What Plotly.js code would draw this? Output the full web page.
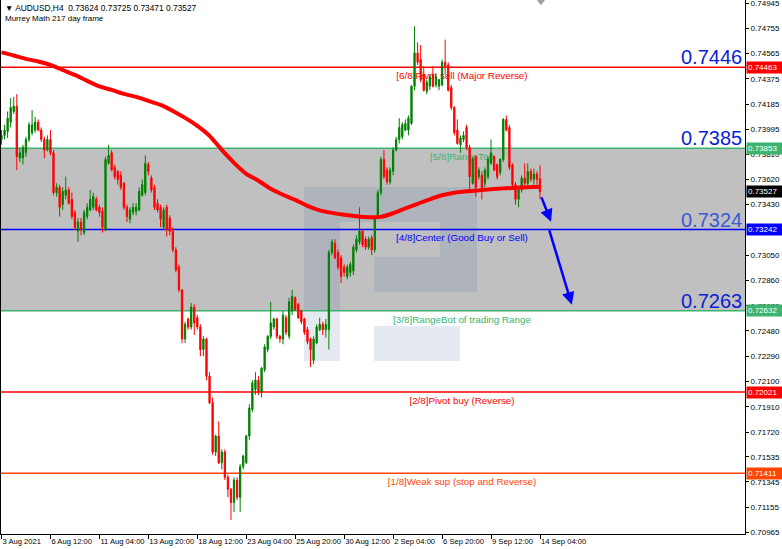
<!DOCTYPE html>
<html><head><meta charset="utf-8">
<script src="https://cdn.plot.ly/plotly-3.0.1.min.js"></script>
<style>html,body{margin:0;padding:0;background:#fff;}#chart{width:782px;height:549px;}</style>
</head><body><div id="chart"></div>
<script>
const symbol = "AUDUSD,H4";
const subtitle = "Murrey Math 217 day frame";

const open = [.7392,.7395,.7398,.7405,.7413,.7417,.7378,.7378,.7382,.7392,
.7397,.7399,.7405,.7399,.7392,.7384,.7392,.7382,.7352,.7356,
.7343,.7350,.7354,.7347,.7337,.7323,.7330,.7322,.7334,.7339,
.7341,.7347,.7341,.7338,.7324,.7374,.7382,.7371,.7368,.7365,
.7359,.7341,.7332,.7337,.7338,.7339,.7350,.7352,.7373,.7363,
.7356,.7344,.7341,.7326,.7341,.7333,.7323,.7309,.7296,.7279,
.7242,.7257,.7251,.7266,.7258,.7251,.7234,.7242,.7214,.7194,
.7157,.7169,.7149,.7157,.7138,.7129,.7119,.7136,.7123,.7146,
.7149,.7169,.7189,.7204,.7211,.7202,.7219,.7234,.7244,.7251,
.7257,.7244,.7242,.7258,.7244,.7263,.7273,.7268,.7263,.7257,
.7249,.7242,.7226,.7239,.7249,.7253,.7249,.7249,.7307,.7314,
.7307,.7303,.7296,.7289,.7292,.7293,.7309,.7315,.7323,.7317,
.7311,.7318,.7309,.7334,.7352,.7377,.7369,.7360,.7368,.7384,
.7392,.7394,.7399,.7399,.7404,.7432,.7457,.7452,.7441,.7428,
.7432,.7441,.7433,.7432,.7433,.7450,.7448,.7431,.7416,.7399,
.7388,.7392,.7401,.7386,.7359,.7379,.7364,.7365,.7359,.7364,
.7374,.7379,.7373,.7367,.7377,.7407,.7401,.7373,.7358,.7347,
.7354,.7363,.7359,.7368,.7362,.7366,.73624];
const high = [.7399,.7403,.7413,.7423,.7424,.7426,.7386,.7388,.7394,.7405,
.7414,.7409,.7407,.7401,.7394,.7395,.7399,.7384,.7359,.7358,
.7356,.7364,.7356,.7352,.7339,.7333,.7333,.7339,.7344,.7354,
.7352,.7349,.7343,.7341,.7379,.7388,.7384,.7373,.7369,.7368,
.7360,.7343,.7341,.7344,.7344,.7356,.7362,.7380,.7375,.7365,
.7358,.7347,.7343,.7341,.7343,.7335,.7326,.7311,.7298,.7279,
.7255,.7258,.7269,.7268,.7260,.7253,.7244,.7243,.7217,.7198,
.7170,.7180,.7159,.7159,.7140,.7130,.7138,.7138,.7148,.7155,
.7170,.7193,.7211,.7217,.7214,.7221,.7238,.7245,.7270,.7258,
.7258,.7245,.7263,.7260,.7273,.7279,.7274,.7269,.7264,.7258,
.7251,.7243,.7244,.7253,.7258,.7255,.7257,.7309,.7317,.7317,
.7309,.7305,.7298,.7298,.7300,.7313,.7320,.7341,.7324,.7319,
.7319,.7320,.7334,.7354,.7379,.7384,.7371,.7371,.7386,.7394,
.7408,.7405,.7407,.7410,.7433,.7477,.7465,.7463,.7447,.7437,
.7441,.7447,.7441,.7437,.7452,.7467,.7450,.7433,.7417,.7407,
.7395,.7398,.7403,.7388,.7379,.7380,.7371,.7368,.7371,.7379,
.7392,.7380,.7374,.7378,.7408,.7410,.7403,.7374,.7360,.7356,
.7365,.7374,.7374,.7370,.7370,.7368,.73725];
const low = [.7388,.7392,.7393,.7401,.7411,.7369,.7375,.7373,.7379,.7390,
.7395,.7397,.7398,.7390,.7378,.7383,.7380,.7350,.7349,.7334,
.7339,.7347,.7343,.7332,.7324,.7315,.7320,.7320,.7332,.7338,
.7339,.7338,.7334,.7322,.7323,.7373,.7368,.7362,.7358,.7354,
.7339,.7330,.7329,.7335,.7335,.7338,.7349,.7350,.7365,.7352,
.7339,.7337,.7326,.7324,.7319,.7320,.7307,.7292,.7277,.7239,
.7239,.7249,.7249,.7245,.7249,.7229,.7229,.7211,.7193,.7155,
.7154,.7148,.7144,.7136,.7123,.7106,.7112,.7121,.7112,.7144,
.7148,.7166,.7187,.7200,.7200,.7198,.7217,.7232,.7242,.7249,
.7242,.7239,.7238,.7245,.7242,.7260,.7263,.7257,.7253,.7245,
.7238,.7221,.7223,.7238,.7248,.7245,.7243,.7234,.7305,.7302,
.7294,.7284,.7289,.7287,.7289,.7290,.7307,.7313,.7311,.7309,
.7309,.7305,.7307,.7332,.7350,.7362,.7358,.7358,.7365,.7383,
.7389,.7392,.7398,.7395,.7403,.7429,.7448,.7435,.7428,.7426,
.7429,.7431,.7431,.7429,.7432,.7441,.7428,.7414,.7395,.7388,
.7382,.7390,.7384,.7354,.7358,.7349,.7362,.7347,.7356,.7362,
.7373,.7368,.7362,.7365,.7375,.7398,.7369,.7356,.7343,.7341,
.7352,.7356,.7357,.7360,.7358,.7358,.73471];
const close = [.7395,.7399,.7408,.7416,.7417,.7379,.7382,.7386,.7392,.7403,
.7403,.7405,.7399,.7392,.7384,.7392,.7382,.7352,.7356,.7341,
.7353,.7354,.7344,.7334,.7326,.7330,.7324,.7337,.7341,.7347,
.7349,.7339,.7337,.7326,.7377,.7380,.7369,.7364,.7362,.7356,
.7341,.7334,.7339,.7341,.7341,.7353,.7358,.7374,.7368,.7354,
.7341,.7339,.7332,.7339,.7324,.7323,.7309,.7294,.7279,.7242,
.7253,.7251,.7266,.7254,.7251,.7234,.7242,.7214,.7194,.7157,
.7169,.7149,.7157,.7138,.7129,.7119,.7136,.7123,.7146,.7154,
.7169,.7190,.7209,.7211,.7202,.7220,.7236,.7244,.7254,.7257,
.7244,.7242,.7260,.7247,.7270,.7274,.7264,.7258,.7255,.7247,
.7240,.7234,.7242,.7251,.7253,.7249,.7253,.7307,.7315,.7303,
.7296,.7289,.7292,.7296,.7298,.7311,.7317,.7323,.7313,.7311,
.7317,.7309,.7332,.7352,.7377,.7364,.7360,.7369,.7384,.7392,
.7401,.7403,.7404,.7408,.7432,.7457,.7450,.7437,.7429,.7435,
.7439,.7432,.7439,.7437,.7450,.7447,.7429,.7416,.7397,.7389,
.7393,.7395,.7386,.7364,.7377,.7356,.7369,.7354,.7369,.7377,
.7382,.7369,.7364,.7377,.7407,.7399,.7371,.7358,.7347,.7354,
.7363,.7359,.7368,.7362,.7366,.7362,.73527];

// moving average read every 4 bars
const maBar = [0,4,8,12,16,20,24,28,32,36,40,44,48,52,56,60,64,68,72,76,80,84,88,92,96,100,104,108,112,116,120,124,128,132,136,140,144,148,152,156,160,164,168,172,176];
const maValue = [.74574,.74551,.74525,.74506,.74480,.74442,.74405,.74360,.74318,.74292,.74262,.74240,.74210,.74179,.74134,.74082,.74022,.73947,.73841,.73744,.73661,.73609,.73549,.73504,.73466,.73421,.73387,.73368,.73353,.73342,.73335,.73338,.73365,.73402,.73436,.73470,.73500,.73519,.73530,.73537,.73545,.73552,.73556,.73560,.73564];

const timeTickBar = [0,16,32,48,64,80,96,112,128,144,160,176];
const timeTickText = ["3 Aug 2021","6 Aug 12:00","11 Aug 04:00","13 Aug 20:00","18 Aug 12:00","23 Aug 04:00","25 Aug 20:00","30 Aug 12:00","2 Sep 04:00","6 Sep 20:00","9 Sep 12:00","14 Sep 04:00"];
const priceTicks = [0.74945,0.74755,0.74565,0.74375,0.74185,0.73995,0.73810,0.73620,0.73430,0.73050,0.72860,0.72670,0.72480,0.72290,0.72100,0.71910,0.71720,0.71535,0.71345,0.71155,0.70965];

const levelValue = [0.74463,0.73853,0.73242,0.72632,0.72021,0.71411];
const levelName = ["[6/8]Pivot sell (Major Reverse)","[5/8]RangeTop","[4/8]Center (Good Buy or Sell)","[3/8]RangeBot of trading Range","[2/8]Pivot buy (Reverse)","[1/8]Weak sup (stop and Reverse)"];
const levelColor = ["#ff0000","#3cb371","#0000ff","#3cb371","#ff0000","#ff4500"];
const bigLabel = ["0.7446","0.7385","0.7324","0.7263"];
const bigLabelColor = ["#0a1fd8","#0a1fd8","#3a5ad8","#0a1fd8"];

const FONT = "Liberation Sans, Arial, sans-serif";
const N = close.length;
const bars = close.map((_, i) => i);

const traces = [
  {type:'candlestick', x:bars, open:open, high:high, low:low, close:close,
   increasing:{line:{color:'#008000', width:1}, fillcolor:'#008000'},
   decreasing:{line:{color:'#ff0000', width:1}, fillcolor:'#ff0000'},
   whiskerwidth:0, hoverinfo:'skip'},
  {type:'scatter', mode:'lines', x:maBar, y:maValue,
   line:{color:'#ff0000', width:4, shape:'spline', smoothing:0.6}, hoverinfo:'skip'}
];

const shapes = [];
shapes.push({type:'rect', xref:'paper', x0:0, x1:1, yref:'y', y0:levelValue[3], y1:levelValue[1],
  fillcolor:'#c0c0c0', line:{width:0}, layer:'below'});
// watermark logo (paper coords)
const wm = 'rgba(80,110,165,0.15)';
[[0.4073,0.4556,0.3240,0.6498],[0.4556,0.6398,0.5843,0.6498],[0.5901,0.6398,0.4532,0.5843],
 [0.5013,0.5901,0.4532,0.5187],[0.5013,0.6169,0.3240,0.3895]].forEach(r => {
  shapes.push({type:'rect', xref:'paper', yref:'paper', x0:r[0], x1:r[1], y0:r[2], y1:r[3],
    fillcolor:wm, line:{width:0}, layer:'below'});
});
levelValue.forEach((v, k) => {
  shapes.push({type:'line', xref:'paper', x0:0, x1:1, yref:'y', y0:v, y1:v,
    line:{color:levelColor[k], width:1.5}, layer:'below'});
  shapes.push({type:'line', xref:'paper', x0:0.2392, x1:1, yref:'y', y0:v, y1:v,
    line:{color:'rgba(0,0,0,0)', width:1}, layer:'below',
    label:{text:levelName[k], textposition:'middle', yanchor:'top', padding:2,
      font:{family:FONT, size:9.8, color:levelColor[k]}}});
});
// chart shift marker
shapes.push({type:'path', xref:'paper', yref:'paper',
  path:'M 0.7204 1 L 0.7312 1 L 0.7258 0.99 Z', fillcolor:'#a0a0a0', line:{width:0}});

const annotations = [];
const last = N - 1;
annotations.push({xref:'paper', yref:'paper', x:0, y:1, xanchor:'left', yanchor:'top', xshift:2, yshift:-1,
  showarrow:false, align:'left', font:{family:FONT, size:8.4, color:'#000'},
  text:'▼ ' + symbol + '  ' + [open[last],high[last],low[last],close[last]].map(v=>v.toFixed(5)).join(' ')});
annotations.push({xref:'paper', yref:'paper', x:0, y:1, xanchor:'left', yanchor:'top', xshift:2, yshift:-12,
  showarrow:false, font:{family:FONT, size:8, color:'#000'}, text:subtitle});
bigLabel.forEach((t, k) => {
  annotations.push({xref:'paper', yref:'y', x:1, y:levelValue[k], xanchor:'right', yanchor:'bottom',
    xshift:-1, yshift:-3, showarrow:false, text:t, font:{family:FONT, size:20, color:bigLabelColor[k]}});
});
const boxVals = levelValue.slice(0,4).concat([close[last]], levelValue.slice(4));
const boxCols = levelColor.slice(0,4).concat(['#000000'], levelColor.slice(4));
boxVals.forEach((v, k) => {
  annotations.push({xref:'paper', yref:'y', x:1, y:v, xanchor:'left', yanchor:'middle', xshift:1,
    showarrow:false, text:v.toFixed(5), bgcolor:boxCols[k], borderpad:1, width:33, align:'left',
    font:{family:FONT, size:8, color:'#ffffff'}});
});
// forecast arrows
annotations.push({xref:'x', yref:'y', axref:'x', ayref:'y', x:179.6, y:0.73301, ax:176.3, ay:0.73496,
  showarrow:true, arrowhead:2, arrowsize:1, arrowwidth:2.5, arrowcolor:'#0000ff', text:''});
annotations.push({xref:'x', yref:'y', axref:'x', ayref:'y', x:186.4, y:0.72677, ax:178.9, ay:0.73248,
  showarrow:true, arrowhead:2, arrowsize:1, arrowwidth:2.5, arrowcolor:'#0000ff', text:''});

const layout = {
  width:782, height:549, margin:{l:1, r:37, t:0, b:15},
  paper_bgcolor:'#ffffff', plot_bgcolor:'#ffffff', showlegend:false, hovermode:false,
  font:{family:FONT, size:8, color:'#000'}, boxgap:0.4,
  xaxis:{range:[-0.16,243.0], tickvals:timeTickBar, ticktext:timeTickText, ticks:'outside', ticklen:4,
    tickangle:0, ticklabeloverflow:'allow', automargin:false,
    tickcolor:'#000', showline:true, linecolor:'#000', linewidth:1, showgrid:false, zeroline:false,
    rangeslider:{visible:false}, ticklabelposition:'outside right', tickfont:{family:FONT, size:7.6, color:'#000'}},
  yaxis:{side:'right', range:[0.70954,0.74968], tickvals:priceTicks, ticktext:priceTicks.map(v=>v.toFixed(5)),
    ticklabeloverflow:'allow', automargin:false,
    ticks:'outside', ticklen:3, tickcolor:'#000', showline:true, mirror:true, linecolor:'#000', linewidth:1,
    showgrid:false, zeroline:false, tickfont:{family:FONT, size:8, color:'#000'}},
  shapes:shapes, annotations:annotations
};
Plotly.newPlot('chart', traces, layout, {staticPlot:true, displayModeBar:false});
</script></body></html>
